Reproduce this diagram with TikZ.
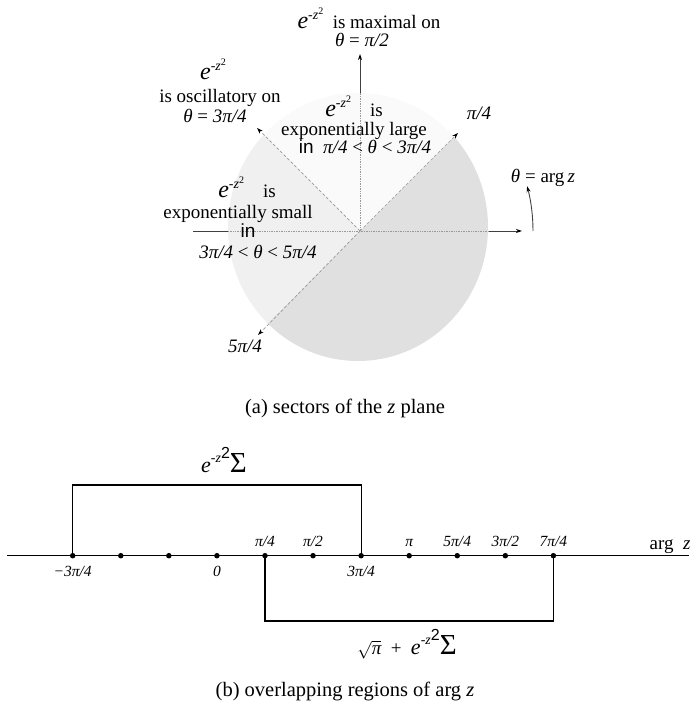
\documentclass[tikz,border=0pt]{standalone}
\usepackage{fontspec}
\setmainfont{Liberation Serif}
\setsansfont{Liberation Sans}
\usetikzlibrary{arrows.meta,positioning,calc}

% e^{-z^2} as set in the sector picture
\newcommand{\expz}{{\fontsize{24}{24}\selectfont\itshape e}\raisebox{9pt}{\fontsize{14}{14}\selectfont -\itshape z\raisebox{5pt}{\fontsize{10}{10}\selectfont\upshape 2}}}
% e^{-z^2} Sigma as set on the line
\newcommand{\expsum}{{\fontsize{22}{22}\selectfont\itshape e}\raisebox{10pt}{\fontsize{14}{14}\selectfont -\itshape z}\raisebox{14pt}{\fontsize{16}{16}\selectfont\sffamily 2}{\fontsize{29}{29}\selectfont Σ}}

\begin{document}
\begin{tikzpicture}[
    x=1pt, y=1pt,
    >={Stealth[length=6pt,width=4pt,black]},
    txt/.style={inner sep=0pt, anchor=base, font=\fontsize{19}{19}\selectfont},
    tick/.style={inner sep=0pt, font=\fontsize{15.5}{15.5}\selectfont\itshape},
    subcap/.style={inner sep=0pt, anchor=base, font=\fontsize{20.5}{20.5}\selectfont},
    axis/.style={line width=0.9pt, draw=black!75},
    guide/.style={densely dotted, line width=0.7pt, draw=black!40},
    bound/.style={dash pattern=on 3pt off 2pt, line width=0.7pt, draw=black!40},
    spot/.style={circle, fill=black, inner sep=0pt, minimum size=5.5pt},
    bar/.style={line width=1.2pt}
]
\useasboundingbox (0,0) rectangle (690,705);

%-----------------------------------
% (a) sectors of the z plane
%-----------------------------------
\coordinate (O) at (360,474);

\begin{scope}
\clip (358,478) ellipse [x radius=130, y radius=134];
\fill[black!12] (O) -- ++(45:200) arc[start angle=45, end angle=-135, radius=200] -- cycle;
\fill[black!6]  (O) -- ++(135:200) arc[start angle=135, end angle=225, radius=200] -- cycle;
\fill[black!2]  (O) -- ++(45:200) arc[start angle=45, end angle=135, radius=200] -- cycle;
\end{scope}

\coordinate (W)    at (228,474);
\coordinate (E)    at (489,474);
\coordinate (N)    at (360,612);
\coordinate (Wend) at (193,474);
\coordinate (Etip) at (522,474);
\coordinate (Ntip) at (360,651);
\coordinate (NW)   at (257,577);
\coordinate (NE)   at (458,572);
\coordinate (SW)   at (258,370);

\draw[guide] (W) -- (E);
\draw[guide] (O) -- (N);
\draw[axis] (Wend) -- (W);
\draw[axis,->] (E) -- (Etip);
\draw[axis,->] (N) -- (Ntip);

\draw[bound,->] (O) -- (NW);
\draw[bound,->] (O) -- (NE);
\draw[bound,->] (O) -- (SW);

\draw[axis,->] (O) ++(0:173) arc[start angle=0, end angle=15, radius=173];

\node[txt] (max1) at (369,676) {\expz\ \ is maximal on};
\node[txt] (max2) at (362,658) {\textit{θ} = \textit{π/2}};

\node[txt] (osc0) at (213,625) {\expz};
\node[txt] (osc1) at (220,602) {is oscillatory on};
\node[txt] (osc2) at (215,582) {\textit{θ} = \textit{3π/4}};

\node[txt] (big0) at (354,588) {\expz\quad is};
\node[txt] (big1) at (354,569) {exponentially large};
\node[txt] (big2) at (365,551) {{\sffamily in}\ \ \textit{π/4} < \textit{θ} < \textit{3π/4}};

\node[txt] (pi4) at (479,585) {\textit{π/4}};

\node[txt] (sml0) at (247,507) {\expz\quad is};
\node[txt] (sml1) at (238,486) {exponentially small};
\node[txt] (sml2) at (248,467) {\sffamily in};
\node[txt] (sml3) at (258,446) {\textit{3π/4} < \textit{θ} < \textit{5π/4}};

\node[txt] (fpi4) at (245,352) {\textit{5π/4}};

\node[txt] (argz) at (543,522) {\textit{θ} = arg\,\textit{z}};

\node[subcap] (capA) at (345,291) {(a) sectors of the \textit{z} plane};

%-----------------------------------
% (b) overlapping regions of arg z
%-----------------------------------
\coordinate (Lend) at (7,149.3);
\coordinate (Rend) at (689,149.3);
\draw[bar] (Lend) -- (Rend);

\foreach \k in {0,...,10}
    \node[spot] (d\k) at ({72.7+48.07*\k},149.3) {};

\node[tick, below=7pt of d0] {−3π/4};
\node[tick, below=7pt of d3] {0};
\node[tick, below=7pt of d6] {3π/4};
\node[tick, above=6pt of d4] {π/4};
\node[tick, above=6pt of d5] {π/2};
\node[tick, above=6pt of d7] {π};
\node[tick, above=6pt of d8] {5π/4};
\node[tick, above=6pt of d9] {3π/2};
\node[tick, above=6pt of d10] {7π/4};

\node[txt] (argb) at (670,155) {arg\ \ \textit{z}};

\draw[bar] (d0.center) -- ++(0,70.7) -| (d6.center);
\draw[bar] (d4.center) -- ++(0,-65.3) -| (d10.center);

\node[txt] (sumtop) at (224,232) {\expsum};
\node[txt] (sumbot) at (407,50) {$\sqrt{\textit{π}}$\ \ +\ \ \expsum};

\node[subcap] (capB) at (345,9) {(b) overlapping regions of arg \textit{z}};

\end{tikzpicture}
\end{document}
